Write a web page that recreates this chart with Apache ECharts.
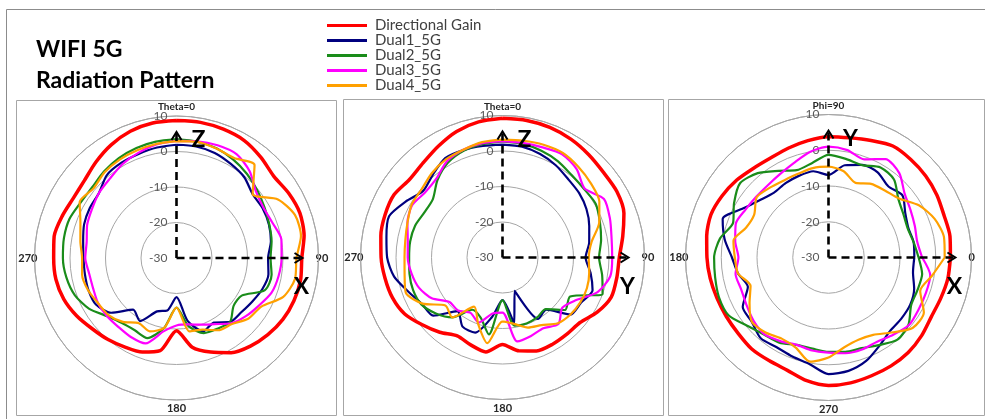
<!DOCTYPE html>
<html><head><meta charset="utf-8">
<script src="https://cdn.jsdelivr.net/npm/echarts@6/dist/echarts.min.js"></script>
<style>html,body{margin:0;padding:0;background:#fff;}#c{width:985px;height:419px;}</style>
</head><body><div id="c"></div>
<script>
// sample angles (degrees) of every measured value
const sampleAngles = [0,10,20,30,40,50,60,70,80,90,100,110,120,130,140,150,160,170,180,190,200,210,220,230,240,250,260,270,280,290,300,310,320,330,340,350];
const seriesNames = ['Directional Gain','Dual1_5G','Dual2_5G','Dual3_5G','Dual4_5G'];
const radiusTicks = [-30,-20,-10,0,10];
const thetaTickValues = [0,90,180,270];
const thetaTickLabels = ['Theta=0','90','180','270'];
const phiTickValues = [90,180,270,360];
const phiTickLabels = ['Phi=90','180','270','0'];

// Cut 1: Theta cut, X-Z plane (values in dB at sampleAngles)
const xzGain  = [8.7,8.8,8.6,8.2,7.0,5.8,6.5,7.0,6.5,5.3,5.5,5.2,4.6,3.6,2.4,0.8,-1.8,-4.5,-9.5,-3.5,-1.8,-1.0,0.0,1.0,2.5,3.8,4.5,4.6,5.0,4.3,3.6,3.9,5.3,6.8,8.0,8.6];
const xzDual1 = [1.9,1.9,1.5,0.6,-0.3,-2.0,-2.0,-2.3,-3.0,-4.2,-3.7,-4.3,-5.4,-6.2,-6.5,-9.0,-8.0,-12.0,-19.0,-15.0,-14.0,-9.5,-11.0,-6.0,-3.8,-3.6,-3.8,-3.8,-3.3,-2.3,-1.8,-1.5,0.5,1.0,1.2,1.6];
const xzDual2 = [3.5,3.3,2.9,2.0,0.9,-0.3,-1.4,-2.2,-2.8,-3.5,-2.8,-3.5,-8.8,-9.0,-6.5,-7.0,-7.5,-10.5,-16.0,-10.0,-6.0,-6.5,-6.1,-4.5,-1.5,0.5,1.5,2.0,2.2,2.1,1.2,1.0,1.8,2.5,3.0,3.3];
const xzDual3 = [3.0,3.4,3.8,3.8,2.0,-0.8,-1.7,-1.2,0.0,-0.4,-0.8,-1.5,-3.2,-4.5,-6.0,-8.5,-10.0,-11.0,-11.0,-9.0,-4.4,-4.3,-4.6,-4.5,-4.5,-5.0,-5.0,-4.3,-4.3,-3.2,-2.5,-1.5,-0.8,0.5,1.5,2.5];
const xzDual4 = [2.9,3.2,2.8,2.5,4.2,-2.0,3.0,5.5,5.6,3.8,3.9,2.0,-2.5,-3.5,-5.7,-6.5,-8.5,-9.0,-16.0,-10.0,-8.0,-8.8,-6.5,-5.0,-4.5,-3.5,-3.0,-3.4,-2.5,-1.2,1.5,0.5,1.5,2.0,2.3,2.6];

// Cut 2: Theta cut, Y-Z plane
const yzGain  = [9.2,9.2,9.0,8.5,7.8,7.2,7.2,6.4,4.4,2.9,2.7,2.6,0.8,-1.5,-1.8,-1.8,-2.0,-3.3,-5.5,-3.0,-3.8,-4.5,-2.5,-0.5,1.8,3.0,3.6,4.2,4.8,5.2,5.3,4.2,4.8,6.2,7.8,8.8];
const yzDual1 = [1.8,1.7,1.0,0.0,-1.2,-1.8,-2.7,-4.0,-5.2,-6.6,-4.8,-3.0,-4.5,-5.0,-10.8,-10.0,-20.0,-11.0,-18.0,-13.0,-7.5,-7.5,-10.3,-4.5,-3.8,-1.8,1.0,2.5,3.2,4.0,1.5,-0.8,0.5,2.3,2.2,1.9];
const yzDual2 = [2.7,2.5,2.0,1.3,0.3,0.0,0.3,-0.8,-1.8,-2.8,-1.5,0.0,-8.0,-7.0,-11.0,-10.5,-10.2,-10.5,-18.0,-8.0,-12.0,-13.0,-8.0,-5.5,-3.6,-3.2,-3.4,-3.7,-3.6,-3.8,-4.6,-4.4,-1.5,0.8,2.0,2.4];
const yzDual3 = [2.8,2.8,3.0,3.6,2.5,0.2,3.0,2.2,1.2,0.9,0.8,-1.5,-6.0,-8.0,-5.5,-7.0,-6.5,-6.0,-14.5,-14.0,-10.5,-12.0,-10.5,-10.5,-7.0,-5.0,-4.0,-3.3,-2.9,-1.5,-0.6,-1.5,-1.0,1.3,2.3,2.7];
const yzDual4 = [3.2,3.4,3.8,4.0,3.3,2.5,1.5,-1.0,-4.5,-5.7,-5.2,-4.7,-4.7,-5.0,-5.8,-8.0,-9.0,-11.0,-12.0,-5.5,-10.0,-14.0,-8.0,-9.0,-4.0,-1.0,-2.0,-2.4,-2.2,-1.5,-0.4,-0.2,1.0,1.9,2.3,3.0];

// Cut 3: Phi cut, X-Y plane (sampleAngles are phi)
const xyGain  = [4.1,4.5,4.4,5.0,5.5,5.8,6.0,4.8,4.0,3.8,3.2,2.6,2.2,2.6,3.6,4.4,5.0,4.6,4.0,3.6,3.2,3.0,3.0,3.4,3.3,3.6,5.0,5.8,5.6,5.2,5.0,4.7,4.0,3.2,3.4,3.9];
const xyDual1 = [-6.0,-5.8,-6.2,-5.2,-3.0,-4.0,-2.5,-2.4,-3.8,-6.9,-5.5,-5.7,-6.0,-6.3,-5.0,-2.5,1.5,-0.5,-3.0,-4.3,-6.0,-2.3,-2.0,-0.5,-1.0,-0.5,0.3,2.6,2.2,0.8,-1.5,-3.2,-3.4,-3.6,-4.5,-6.0];
const xyDual2 = [-4.8,-5.8,-6.4,-5.8,-4.5,-1.5,-0.9,-2.5,-2.0,-1.3,-3.2,-4.0,-2.0,0.8,2.3,0.5,-1.6,0.8,2.0,2.2,2.6,2.3,-0.3,-1.9,-2.5,-4.0,-4.1,-3.6,-3.2,-3.0,-1.7,0.0,-0.8,-3.3,-3.5,-3.4];
const xyDual3 = [-3.8,-4.8,-4.3,-3.5,-2.2,0.8,1.8,-0.8,0.5,1.0,0.0,-1.8,-3.0,-3.6,-3.6,-3.2,-2.4,-3.5,-4.8,-3.6,-4.0,-3.5,-2.6,-2.0,-3.0,-4.0,-3.6,-3.4,-2.8,-2.6,-2.8,-1.8,-0.6,-0.9,-1.0,-1.1];
const xyDual4 = [2.5,2.8,1.6,-0.8,-4.3,-5.5,-6.2,-7.8,-5.5,-4.6,-4.6,-5.1,-5.1,-4.5,-3.8,-6.0,-5.5,-3.0,-3.8,-4.3,-6.8,-4.5,-2.0,-2.6,-3.8,-3.2,-0.4,-2.0,-4.5,-5.5,-5.0,-2.6,0.7,0.8,-2.7,-0.6];

const cuts = [
  {values:[xzGain,xzDual1,xzDual2,xzDual3,xzDual4], center:[176.5,258], radius:142, phi:false, names:['Z','X']},
  {values:[yzGain,yzDual1,yzDual2,yzDual3,yzDual4], center:[502.5,257.5], radius:142, phi:false, names:['Z','Y']},
  {values:[xyGain,xyDual1,xyDual2,xyDual3,xyDual4], center:[828.5,257.5], radius:143, phi:true, names:['Y','X']}
];
const colors = ['#ff0000','#00007f','#1a8c1a','#ff00ff','#ffa000'];
const widths = [3.5,2.2,2.2,2.2,2.2];
const FONT = 'Lato, "Noto Sans", sans-serif';
const lblBase = {fontSize: 11, fontWeight: 'bold', color: '#262626', fontFamily: FONT};

const chart = echarts.init(document.getElementById('c'), null, {renderer:'canvas'});
const polar = [], angleAxis = [], radiusAxis = [], series = [];
cuts.forEach((cut, i) => {
  polar.push({center: cut.center, radius: cut.radius});
  const tv = cut.phi ? phiTickValues : thetaTickValues;
  const tl = cut.phi ? phiTickLabels : thetaTickLabels;
  const topV = cut.phi ? 90 : 0, botV = cut.phi ? 270 : 180;
  angleAxis.push({
    polarIndex: i, type: 'value',
    min: cut.phi ? 90 : 0, max: cut.phi ? 450 : 360, interval: 90,
    startAngle: 90, clockwise: !cut.phi,
    axisLine: {lineStyle: {color: '#a6a6a6', width: 1}},
    axisTick: {show: false}, splitLine: {show: false},
    axisLabel: Object.assign({margin: -3,
      formatter: v => {
        const vv = v === 450 ? 90 : (v === 360 && !cut.phi ? 0 : v);
        const k = tv.indexOf(vv);
        if (k < 0) return '';
        const tag = vv === topV ? 't' : (vv === botV ? 'b' : 's');
        return '{' + tag + '|' + tl[k] + '}';
      },
      rich: {
        t: Object.assign({padding: [0,0,7,0]}, lblBase, {fontSize: 10}),
        b: Object.assign({padding: [6,0,0,0]}, lblBase),
        s: Object.assign({}, lblBase)
      }}, lblBase)
  });
  radiusAxis.push({
    polarIndex: i, type: 'value', min: radiusTicks[0], max: radiusTicks[radiusTicks.length-1], interval: 10,
    axisLine: {show: false}, axisTick: {show: false},
    splitLine: {lineStyle: {color: '#a6a6a6', width: 1}},
    axisLabel: {margin: 9, fontSize: 12, color: '#595959', fontFamily: FONT}, z: 1
  });
  cut.values.forEach((vals, j) => {
    const mapA = a => cut.phi ? (a < 90 ? a + 360 : a) : a;
    const data = sampleAngles.map((a, k) => [vals[k], mapA(a)]);
    data.push([vals[0], 360]);
    series.push({
      type: 'line', coordinateSystem: 'polar', polarIndex: i, name: seriesNames[j],
      data: data, showSymbol: false, symbol: 'none', smooth: 0.25,
      lineStyle: {color: colors[j], width: widths[j]}, itemStyle: {color: colors[j]},
      z: 2 + j, silent: true, animation: false
    });
  });
});

const option = {
  animation: false,
  backgroundColor: '#ffffff',
  title: {text: 'WIFI 5G\nRadiation Pattern', left: 31, top: 29,
    textStyle: {fontSize: 23, fontWeight: 'bold', color: '#000', lineHeight: 31, fontFamily: FONT}},
  legend: {data: seriesNames, orient: 'vertical', left: 322, top: 13, itemGap: 0, itemWidth: 40, itemHeight: 3,
    icon: 'rect',
    textStyle: {fontSize: 15, lineHeight: 15, color: '#404040', fontFamily: FONT, padding: [0,0,0,3]}},
  polar, angleAxis, radiusAxis, series
};
chart.setOption(option);

// frames, dashed coordinate arrows and their axis letters
const g = [];
g.push({type:'polyline', shape:{points:[[6.5,419],[6.5,9.5],[985,9.5]]}, style:{stroke:'#8c8c8c', fill:null, lineWidth:1}, z:0, silent:true});
[[16.5,100.5,320,315],[343.5,99.5,320,316],[668.5,99.5,316,316]].forEach(b => {
  g.push({type:'rect', shape:{x:b[0], y:b[1], width:b[2], height:b[3]}, style:{stroke:'#a6a6a6', fill:null, lineWidth:1}, z:0, silent:true});
});
const arrowReach = 5.5;
cuts.forEach((cut, i) => {
  const up = cut.phi ? 90 : 0, right = cut.phi ? 360 : 90;
  const f = {seriesIndex: i * 5};
  const c = chart.convertToPixel(f, [-30, up]);
  const tu = chart.convertToPixel(f, [arrowReach, up]);
  const tr = chart.convertToPixel(f, [arrowReach, right]);
  const ds = {stroke:'#000', lineWidth:2.6, lineDash:[8,5]};
  g.push({type:'line', shape:{x1:c[0], y1:c[1], x2:tu[0], y2:tu[1]+2}, style:ds, z:50, silent:true});
  g.push({type:'line', shape:{x1:c[0], y1:c[1], x2:tr[0]-2, y2:tr[1]}, style:ds, z:50, silent:true});
  g.push({type:'polyline', shape:{points:[[tu[0]-5,tu[1]+8],[tu[0],tu[1]],[tu[0]+5,tu[1]+8]]}, style:{stroke:'#000', lineWidth:2, fill:null}, z:51, silent:true});
  g.push({type:'polyline', shape:{points:[[tr[0]-8,tr[1]-5],[tr[0],tr[1]],[tr[0]-8,tr[1]+5]]}, style:{stroke:'#000', lineWidth:2, fill:null}, z:51, silent:true});
  g.push({type:'text', x:c[0]+22, y:tu[1]+8, style:{text:cut.names[0], font:'bold 23px ' + FONT, fill:'#000', align:'center', verticalAlign:'middle'}, z:52, silent:true});
  g.push({type:'text', x:tr[0]-1, y:c[1]+29, style:{text:cut.names[1], font:'bold 23px ' + FONT, fill:'#000', align:'center', verticalAlign:'middle'}, z:52, silent:true});
});
chart.setOption({graphic: {elements: g}});
</script>
</body></html>
